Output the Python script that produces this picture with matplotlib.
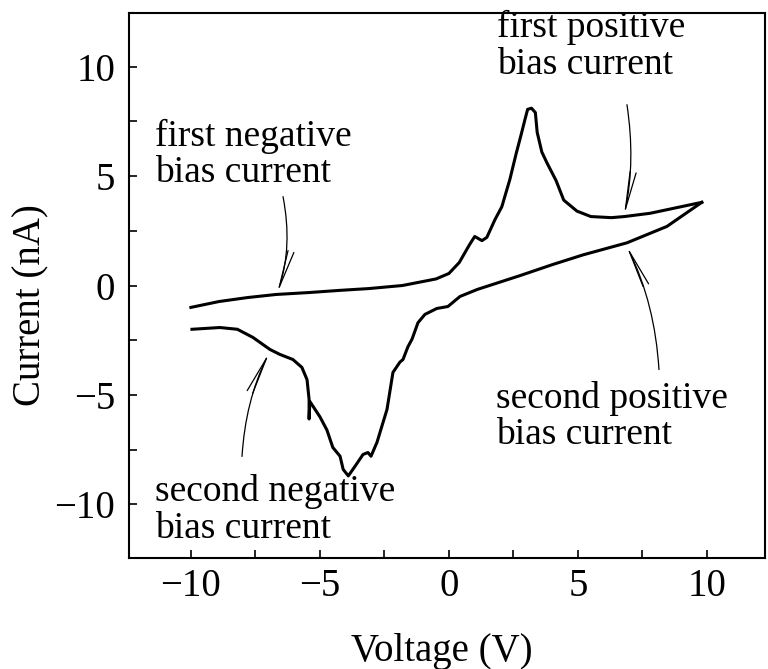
import matplotlib
matplotlib.use('Agg')
import matplotlib.pyplot as plt
from matplotlib.ticker import MultipleLocator

# first sweep (upper branch), -10 V -> +10 V
up_v = [-10.0, -8.9, -7.8, -6.7, -5.4, -4.2, -3.1, -1.8, -0.5, 0.0, 0.4, 0.8, 1.0, 1.28,
        1.47, 1.78, 2.05, 2.36, 2.6, 2.8, 2.95, 3.05, 3.2, 3.35, 3.42, 3.6, 3.8, 4.15,
        4.45, 4.96, 5.5, 6.3, 6.8, 7.8, 8.8, 9.8]
up_i = [-1.0, -0.73, -0.55, -0.41, -0.32, -0.22, -0.14, 0.0, 0.3, 0.55, 1.05, 1.87, 2.24, 2.05,
        2.2, 3.0, 3.6, 4.84, 6.0, 6.9, 7.6, 8.05, 8.1, 7.9, 7.0, 6.1, 5.6, 4.8,
        3.9, 3.4, 3.15, 3.1, 3.15, 3.3, 3.55, 3.8]

# return sweep (lower branch), +10 V -> -10 V
dn_v = [9.8, 8.45, 6.9, 5.2, 4.0, 2.75, 1.1, 0.43, -0.04, -0.47, -0.93, -1.2, -1.43, -1.59,
        -1.78, -1.9, -2.17, -2.4, -2.79, -3.02, -3.14, -3.33, -3.64, -3.9, -4.1, -4.22,
        -4.5, -4.73, -5.0, -5.39, -5.42, -5.42, -5.5, -5.7, -6.05, -6.55, -6.94, -7.6,
        -8.2, -8.88, -9.96]
dn_i = [3.8, 2.7, 1.95, 1.4, 0.95, 0.45, -0.18, -0.5, -0.96, -1.05, -1.32, -1.7, -2.45, -2.8,
        -3.38, -3.5, -3.97, -5.66, -7.17, -7.8, -7.63, -7.72, -8.26, -8.7, -8.4, -7.8,
        -7.4, -6.6, -6.0, -5.3, -6.1, -5.2, -4.3, -3.74, -3.38, -3.15, -2.92, -2.37,
        -2.0, -1.92, -2.0]

labels = ['first negative\nbias current', 'first positive\nbias current',
          'second positive\nbias current', 'second negative\nbias current']
label_xy = [(-11.4, 5.98), (1.86, 10.95), (1.82, -5.98), (-11.4, -10.27)]
arrow_tail = [(-6.43, 4.06), (6.9, 8.26), (8.14, -3.84), (-8.02, -7.81)]
arrow_tip = [(-6.67, -0.41), (6.78, 3.15), (6.86, 1.87), (-6.94, -3.01)]
arrow_rad = [-0.13, -0.09, 0.1, -0.1]

plt.rcParams['font.family'] = ['Liberation Serif', 'DejaVu Serif']

fig = plt.figure(figsize=(7.68, 6.69), dpi=100)
ax = fig.add_axes([129 / 768, 111 / 669, 636 / 768, 545 / 669])

ax.plot(up_v, up_i, color='k', lw=2.2, solid_joinstyle='round')
ax.plot(dn_v, dn_i, color='k', lw=2.2, solid_joinstyle='round')

for txt, (tx, ty) in zip(labels, label_xy):
    ax.text(tx, ty, txt, fontsize=27, ha='left', va='center', linespacing=1.08)

for tail, tip, rad in zip(arrow_tail, arrow_tip, arrow_rad):
    ax.annotate('', xy=tip, xytext=tail,
                arrowprops=dict(arrowstyle='->,head_length=2.7,head_width=0.22',
                                mutation_scale=10, lw=0.9, color='k',
                                shrinkA=0, shrinkB=0,
                                connectionstyle='arc3,rad=%s' % rad))

ax.set_xlim(-12.4, 12.25)
ax.set_ylim(-12.45, 12.45)
ax.xaxis.set_major_locator(MultipleLocator(5))
ax.xaxis.set_minor_locator(MultipleLocator(2.5))
ax.yaxis.set_major_locator(MultipleLocator(5))
ax.yaxis.set_minor_locator(MultipleLocator(2.5))
ax.tick_params(which='both', direction='in', length=6, width=1.2)
ax.tick_params(axis='x', labelsize=28, pad=7)
ax.tick_params(axis='y', labelsize=28, pad=10)
for s in ax.spines.values():
    s.set_linewidth(1.5)

ax.set_xlabel('Voltage (V)', fontsize=28)
ax.set_ylabel('Current (nA)', fontsize=28)
ax.xaxis.set_label_coords(0.492, -0.138)
ax.yaxis.set_label_coords(-0.125, 0.464)

fig.savefig('out.png', dpi=100)
